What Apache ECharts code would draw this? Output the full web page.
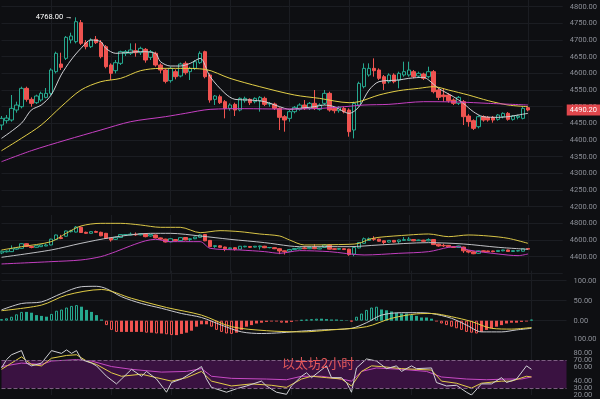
<!DOCTYPE html>
<html>
<head>
<meta charset="utf-8">
<script src="https://cdn.jsdelivr.net/npm/echarts@6.0.0/dist/echarts.min.js"></script>
<style>
  html, body { margin: 0; padding: 0; background: #0e0f12; }
  #chart { width: 600px; height: 399px; }
</style>
</head>
<body>
<div id="chart"></div>
<script>
// 2h candles, [open, close, low, high]
var candles = [
  [4445,4465,4430,4472],[4458,4466,4450,4475],[4460,4495,4455,4535],[4490,4505,4482,4515],[4500,4555,4495,4560],
  [4555,4522,4515,4560],[4522,4510,4500,4528],[4512,4532,4508,4536],[4520,4540,4515,4545],[4528,4540,4525,4556],
  [4540,4610,4535,4615],[4605,4660,4600,4665],[4628,4618,4610,4662],[4645,4708,4640,4712],[4700,4712,4690,4722],
  [4695,4755,4690,4768],[4752,4690,4685,4760],[4692,4680,4672,4700],[4680,4700,4676,4705],[4702,4692,4688,4712],
  [4692,4650,4645,4700],[4680,4620,4615,4685],[4625,4600,4580,4630],[4608,4632,4600,4640],[4630,4665,4625,4668],
  [4660,4665,4652,4670],[4660,4670,4655,4690],[4668,4662,4650,4690],[4662,4675,4655,4680],[4672,4640,4632,4676],
  [4648,4665,4640,4670],[4660,4625,4620,4665],[4625,4610,4600,4630],[4610,4576,4570,4615],[4578,4615,4572,4620],
  [4605,4590,4582,4612],[4592,4628,4588,4632],[4630,4602,4596,4636],[4605,4615,4580,4620],[4615,4635,4610,4640],
  [4632,4660,4628,4666],[4665,4590,4585,4668],[4595,4520,4512,4600],[4522,4532,4505,4535],[4530,4512,4508,4536],
  [4515,4495,4465,4520],[4495,4505,4488,4510],[4507,4490,4472,4512],[4490,4525,4486,4528],[4518,4525,4512,4530],
  [4522,4512,4505,4525],[4515,4525,4510,4528],[4518,4528,4485,4532],[4525,4507,4502,4530],[4508,4510,4500,4514],
  [4508,4495,4490,4512],[4495,4468,4430,4498],[4470,4460,4425,4475],[4465,4485,4455,4490],[4485,4498,4480,4502],
  [4492,4505,4488,4510],[4505,4495,4490,4520],[4495,4510,4490,4514],[4510,4495,4490,4550],[4492,4505,4488,4510],
  [4510,4540,4505,4550],[4540,4490,4485,4545],[4495,4488,4480,4500],[4488,4498,4482,4502],[4495,4485,4480,4500],
  [4490,4425,4410,4495],[4430,4510,4405,4515],[4505,4570,4500,4575],[4560,4615,4555,4630],[4595,4615,4590,4630],
  [4615,4608,4590,4645],[4610,4585,4580,4615],[4590,4570,4550,4595],[4575,4595,4570,4600],[4595,4575,4570,4600],
  [4580,4600,4555,4605],[4595,4605,4590,4635],[4595,4610,4590,4635],[4605,4590,4585,4610],[4592,4600,4588,4605],
  [4598,4585,4580,4602],[4590,4605,4585,4620],[4605,4545,4540,4610],[4550,4528,4520,4555],[4535,4530,4515,4555],
  [4535,4518,4512,4540],[4520,4510,4505,4525],[4510,4528,4505,4532],[4515,4470,4445,4520],[4472,4455,4440,4478],
  [4458,4435,4430,4462],[4440,4470,4435,4474],[4470,4460,4455,4474],[4468,4460,4455,4472],[4468,4460,4452,4472],
  [4462,4475,4458,4478],[4470,4480,4465,4483],[4480,4462,4458,4484],[4462,4472,4458,4475],[4468,4472,4462,4476],
  [4465,4495,4462,4500],[4497,4490.2,4486,4500]
];
var emptySlots = 7; // right-hand margin, in candles

// moving averages on the main pane, [candle index, price]
var maFast = [[0,4405],[4,4450],[6,4490],[8,4505],[10,4535],[12,4595],[14,4640],[16,4675],[18,4700],[20,4695],
  [21,4675],[23,4660],[25,4662],[28,4665],[31,4660],[32,4635],[34,4622],[36,4622],[38,4630],[40,4645],[42,4590],
  [45,4540],[47,4522],[50,4520],[53,4515],[56,4500],[58,4492],[60,4495],[63,4500],[65,4505],[67,4500],[70,4480],
  [72,4500],[74,4550],[76,4575],[80,4580],[82,4585],[85,4588],[86,4580],[88,4555],[91,4530],[93,4510],[95,4485],
  [97,4470],[100,4468],[102,4470],[104,4475],[106,4480]];
var maMid = [[0,4368],[4,4405],[8,4445],[12,4500],[16,4550],[20,4575],[24,4585],[28,4608],[32,4615],[36,4615],
  [41,4612],[46,4585],[52,4560],[59,4535],[64,4525],[70,4512],[72,4515],[76,4535],[80,4548],[84,4555],[87,4560],
  [90,4550],[94,4535],[98,4518],[102,4505],[106,4500]];
var maSlow = [[0,4335],[6,4368],[13,4400],[20,4430],[26,4455],[33,4470],[37,4480],[42,4492],[49,4494],[56,4493],
  [63,4494],[69,4500],[73,4505],[78,4507],[85,4515],[92,4514],[98,4510],[106,4505]];

// bands on the second pane
var bandUpper = [[0,4480],[4,4520],[10,4580],[13,4680],[16,4768],[20,4800],[24,4800],[28,4780],[32,4752],[36,4752],
  [40,4688],[44,4712],[48,4700],[52,4672],[56,4648],[58,4600],[61,4540],[70,4548],[72,4560],[74,4608],[76,4632],
  [82,4660],[86,4672],[90,4640],[94,4660],[98,4648],[102,4620],[106,4560]];
var bandMid = [[0,4392],[10,4480],[16,4560],[22,4628],[30,4680],[34,4680],[40,4648],[46,4608],[53,4568],[58,4528],
  [60,4520],[70,4520],[76,4540],[86,4568],[93,4552],[100,4512],[106,4488]];
var bandLower = [[0,4312],[10,4340],[16,4360],[20,4400],[23,4460],[26,4530],[29,4590],[31,4608],[34,4580],[40,4580],
  [42,4500],[48,4480],[53,4460],[56,4440],[60,4472],[66,4460],[73,4420],[80,4440],[86,4460],[90,4512],[92,4520],
  [94,4480],[100,4432],[104,4412],[106,4432]];

// MACD
var macdHist = [4,6,10,16,22,22,20,14,12,10, 17,25,28,33,37,39,35,27,22,14,
  3,-11,-23,-28,-28,-28,-28,-28,-28,-30, -30,-32,-32,-34,-36,-36,-33,-30,-25,-15,
  -9,-9,-15,-23,-28,-32,-33,-30,-23,-15, -11,-7,-5,-3,-2,-2,-5,-5,-3,-1,
  2,3,4,5,5,4,3,3,2,1, -2,10,18,27,33,35,28,26,23,20,
  18,18,14,12,8,8,5,-2,-7,-11, -15,-19,-23,-28,-30,-32,-28,-23,-19,-15,
  -11,-7,-5,-5,-3,-2,3];
var macdDif = [[0,27],[4,43],[8,47],[12,68],[16,85],[19,86],[21,80],[24,60],[28,43],[32,31],[36,18],[40,8],
  [44,-11],[48,-28],[52,-32],[56,-30],[60,-26],[64,-23],[70,-19],[73,-5],[76,14],[80,20],[83,20],[86,18],
  [90,6],[93,-11],[96,-28],[100,-28],[103,-23],[106,-19]];
var macdDea = [[0,25],[8,39],[13,64],[20,78],[26,56],[33,33],[40,14],[46,-15],[53,-25],[60,-28],[66,-23],
  [73,-15],[78,6],[83,17],[86,18],[90,10],[94,-2],[98,-19],[102,-21],[106,-17]];

// RSI
var rsiFast = [[0,59],[1,71],[2,78],[4,84],[5,66],[6,62],[8,66],[10,84],[12,80],[13,85],[14,80],[15,84],[16,71],
  [18,66],[19,62],[21,47],[23,36],[24,43],[26,57],[28,47],[29,54],[31,43],[33,24],[34,38],[36,43],[40,61],[41,43],
  [42,31],[45,24],[47,29],[49,33],[52,40],[53,33],[55,24],[57,21],[58,33],[60,47],[61,52],[62,45],[65,62],[66,45],
  [68,45],[69,38],[70,24],[71,59],[73,72],[75,69],[77,58],[79,62],[80,54],[82,62],[83,58],[86,59],[87,38],[89,33],
  [91,34],[93,24],[94,20],[96,36],[98,36],[100,45],[101,38],[103,43],[105,62],[106,57]];
var rsiMid = [[0,57],[2,66],[4,75],[6,64],[8,62],[10,73],[13,77],[15,78],[17,69],[19,64],[22,52],[24,47],[28,50],
  [31,45],[34,40],[37,45],[40,54],[42,40],[46,33],[50,36],[54,34],[57,31],[60,43],[62,47],[65,45],[68,43],[70,33],
  [72,54],[74,62],[76,61],[80,58],[83,57],[86,56],[88,40],[91,37],[94,30],[96,37],[100,40],[102,40],[105,47],[106,46]];
var rsiSlow = [[0,61],[4,66],[8,64],[10,69],[15,71],[18,69],[22,61],[26,57],[32,53],[37,54],[40,58],[42,47],[46,44],
  [53,43],[57,42],[60,47],[64,47],[68,43],[70,40],[72,54],[75,59],[80,57],[85,54],[88,46],[93,43],[97,42],[101,43],
  [104,43],[106,46]];
// the RSI scale labels sit close together, so they are split over three
// stacked axes to keep ECharts from dropping the crowded ones
var rsiLabelsA = [40, 60, 80, 100];
var rsiLabelsB = [30, 70];
var rsiLabelsC = [20];

var titleText = '以太坊2小时';

var bg = '#0e0f12';
var upColor = '#26a88f';
var downColor = '#ef5350';
var gridColor = '#1b1d22';
var labelColor = '#8c8f97';

var cats = Array.from({ length: candles.length + emptySlots }, function (_, i) { return String(i); });
var lastClose = candles[candles.length - 1][1];

var histData = macdHist.map(function (v, i) {
  var prev = i > 0 ? macdHist[i - 1] : 0;
  var growing = Math.abs(v) > Math.abs(prev);
  var c = v >= 0 ? upColor : downColor;
  return {
    value: v,
    itemStyle: growing
      ? { color: bg, borderColor: c, borderWidth: 1 }
      : { color: c, borderColor: c, borderWidth: 0 }
  };
});

function xAx(idx) {
  return {
    type: 'category', gridIndex: idx, data: cats, boundaryGap: false,
    axisLine: { show: false }, axisTick: { show: false }, axisLabel: { show: false },
    splitLine: { show: true, interval: function (i) { return i % 12 === 10; }, lineStyle: { color: gridColor } }
  };
}
function yLabel() {
  return { color: labelColor, fontSize: 7.5, fontFamily: 'Roboto', margin: 7,
    formatter: function (v) { return v.toFixed(2); } };
}
function rsiAxis(values) {
  return { type: 'value', gridIndex: 3, position: 'right', min: 20, max: 100, offset: 0,
    axisLabel: Object.assign(yLabel(), { customValues: values }),
    axisLine: { show: false }, axisTick: { show: false }, splitLine: { show: false } };
}
function line(name, data, color, xi, smooth) {
  return { name: name, type: 'line', xAxisIndex: xi, yAxisIndex: xi, data: data, symbol: 'none',
    smooth: smooth, lineStyle: { color: color, width: 1 }, z: 3, silent: true };
}

var chart = echarts.init(document.getElementById('chart'));
chart.setOption({
  backgroundColor: bg,
  animation: false,
  title: { text: titleText, left: 277, top: 352,
    textStyle: { color: '#e4585b', fontSize: 13, fontWeight: 'normal', fontFamily: 'Noto Sans CJK SC' } },
  grid: [
    { left: 1.5, right: 33.5, top: 0, height: 206.7 },
    { left: 1.5, right: 33.5, top: 215, height: 58.3 },
    { left: 1.5, right: 33.5, top: 270.7, height: 70 },
    { left: 1.5, right: 33.5, top: 339.5, height: 56.6 }
  ],
  xAxis: [xAx(0), xAx(1), xAx(2), xAx(3)],
  yAxis: [
    { type: 'value', gridIndex: 0, position: 'right', min: 4200, max: 4820, interval: 50,
      axisLabel: Object.assign(yLabel(), { showMaxLabel: false }),
      axisLine: { show: false }, axisTick: { show: false },
      splitLine: { showMaxLine: false, lineStyle: { color: gridColor } } },
    { type: 'value', gridIndex: 1, position: 'right', min: 4200, max: 4900, interval: 200,
      axisLabel: Object.assign(yLabel(), { showMaxLabel: false, showMinLabel: false }),
      axisLine: { show: false }, axisTick: { show: false },
      splitLine: { showMaxLine: false, lineStyle: { color: gridColor } } },
    { type: 'value', gridIndex: 2, position: 'right', min: -50, max: 125, interval: 50,
      axisLabel: Object.assign(yLabel(), { showMaxLabel: false, showMinLabel: false }),
      axisLine: { show: false }, axisTick: { show: false },
      splitLine: { showMaxLine: false, showMinLine: false, lineStyle: { color: gridColor } } },
    rsiAxis(rsiLabelsA),
    rsiAxis(rsiLabelsB),
    rsiAxis(rsiLabelsC)
  ],
  series: [
    {
      type: 'candlestick', xAxisIndex: 0, yAxisIndex: 0, data: candles, barWidth: 4, clip: false,
      itemStyle: { color: bg, color0: downColor, borderColor: upColor, borderColor0: downColor, borderWidth: 1 },
      markPoint: {
        symbol: 'circle', symbolSize: 1, itemStyle: { color: 'rgba(0,0,0,0)' },
        data: [{ type: 'max', valueDim: 'highest' }],
        label: { show: true, position: 'left', distance: 3, color: '#ffffff', fontSize: 7.5, fontFamily: 'Roboto',
          formatter: function (p) { return p.value.toFixed(2) + ' \u2192'; } }
      },
      markLine: {
        symbol: 'none', silent: true, animation: false,
        lineStyle: { color: 'rgba(0,0,0,0)', width: 1 },
        data: [{ yAxis: lastClose }],
        label: { show: true, position: 'end', distance: 4, color: '#ffffff', backgroundColor: '#e0474c',
          padding: [2, 3, 1, 3], fontSize: 7.5, fontFamily: 'Roboto',
          formatter: function () { return lastClose.toFixed(2); } }
      }
    },
    line('ma-fast', maFast, '#cfd0d4', 0, 0.3),
    line('ma-mid', maMid, '#e3cf48', 0, 0.3),
    line('ma-slow', maSlow, '#c640c2', 0, 0.3),

    {
      type: 'candlestick', xAxisIndex: 1, yAxisIndex: 1, data: candles, barWidth: 4,
      itemStyle: { color: bg, color0: downColor, borderColor: upColor, borderColor0: downColor, borderWidth: 1 }
    },
    line('bb-upper', bandUpper, '#d9c547', 1, 0.3),
    line('bb-mid', bandMid, '#bfc0c4', 1, 0.3),
    line('bb-lower', bandLower, '#c23fbf', 1, 0.3),

    { type: 'bar', xAxisIndex: 2, yAxisIndex: 2, data: histData, barWidth: 3, silent: true },
    line('dif', macdDif, '#c9cacf', 2, 0.3),
    line('dea', macdDea, '#e0cc46', 2, 0.3),

    Object.assign(line('rsi-slow', rsiSlow, '#c74ac4', 3, false), {
      markArea: { silent: true, itemStyle: { color: '#3a1241' }, data: [[{ yAxis: 70 }, { yAxis: 30 }]] },
      markLine: { silent: true, symbol: 'none', label: { show: false },
        lineStyle: { color: '#7d5d82', type: 'dashed', width: 1 }, data: [{ yAxis: 70 }, { yAxis: 30 }] }
    }),
    line('rsi-mid', rsiMid, '#e2cd48', 3, false),
    line('rsi-fast', rsiFast, '#d0d1d5', 3, false)
  ]
});
</script>
</body>
</html>
